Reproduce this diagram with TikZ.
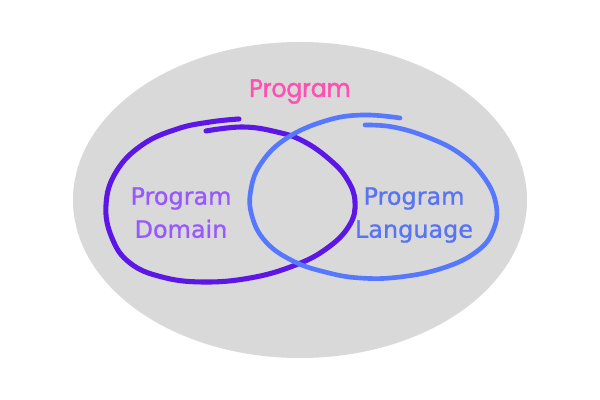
\documentclass[tikz,border=0pt]{standalone}
\usepackage{fontspec}
\usepackage{tikz}
\newfontfamily\popfont[FakeBold=1.6, FakeStretch=0.92]{Poppins}
\newfontfamily\dejafont[FakeBold=0.9]{DejaVu Sans}
\definecolor{ashgray}{RGB}{217, 217, 217}
\definecolor{hotpink}{RGB}{255, 80, 178}
\definecolor{indigoloop}{RGB}{92, 22, 230}
\definecolor{lavendertext}{RGB}{152, 88, 255}
\definecolor{royalloop}{RGB}{86, 120, 255}
\definecolor{royaltext}{RGB}{88, 116, 242}
\begin{document}
\begin{tikzpicture}[x=0.025cm, y=-0.025cm, line cap=round, line join=round]
        \useasboundingbox (0,0) rectangle (600,400);
            % the whole program
            \fill[ashgray]                                                (300,200) ellipse (227 and 158);
            % program domain loop
            \draw[color=indigoloop, line width=3.6pt] plot[smooth, tension=0.7] coordinates {
                 (206,131) (243,127) (277,132) (303,141) (329,159) (347,179) (355,202)
                 (349,226) (326,249) (293,266) (250,278) (203,282) (162,277) (130,263)
                 (112,238) (106,205) (116,172) (142,145) (177,129) (210,122) (239,119)};
            % program language loop
            \draw[color=royalloop,  line width=3.3pt] plot[smooth, tension=0.7] coordinates {
                 (365,125) (393,127) (427,137) (459,153) (483,176) (496,204) (493,231)
                 (476,252) (443,268) (400,277) (360,278) (325,272) (293,261) (266,242)
                 (252,216) (251,189) (262,162) (287,138) (325,121) (362,115) (400,118)};
            \node[color=hotpink,      anchor=base,  inner sep=0pt, font=\popfont\fontsize{18}{22}\selectfont] (whole)    at (300, 97) {Program};
            \node[color=lavendertext, anchor=north, inner sep=0pt, align=center,
                 font=\dejafont\fontsize{17}{23.5}\selectfont]                                            (domain)   at (181,187) {Program\\Domain};
            \node[color=royaltext,    anchor=north, inner sep=0pt, align=center,
                 font=\dejafont\fontsize{17}{23.5}\selectfont]                                            (language) at (414,187) {Program\\Language};
        \end{tikzpicture}
\end{document}
